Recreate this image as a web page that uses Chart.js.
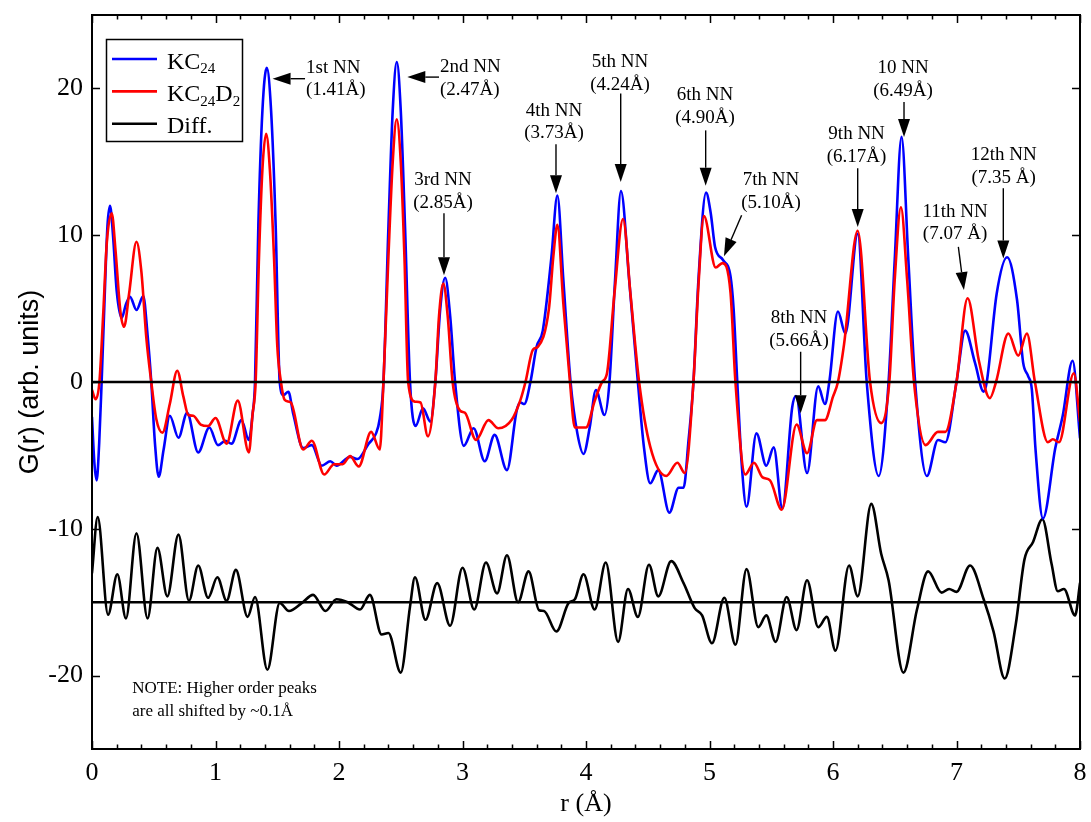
<!DOCTYPE html>
<html>
<head>
<meta charset="utf-8">
<title>G(r) KC24 / KC24D2</title>
<script src="https://cdn.jsdelivr.net/npm/chart.js@4.4.0/dist/chart.umd.min.js"></script>
<style>
  html, body { margin: 0; padding: 0; background: #fff; }
  #wrap { width: 1091px; height: 822px; }
</style>
</head>
<body>
<div id="wrap"><canvas id="gr" width="1091" height="822"></canvas></div>
<script>
// pair distribution functions, [r (Å), G(r)]
var kc24 = [[0.00,-2.4],[0.02,-5.6],[0.038,-6.7],[0.058,-4.2],[0.078,0],[0.10,5.2],[0.125,10.6],[0.146,12.0],[0.17,10.0],[0.20,6.2],
  [0.24,4.35],[0.275,5.3],[0.308,5.8],[0.36,4.9],[0.415,5.85],[0.45,3.2],[0.48,0],[0.51,-4.2],[0.54,-6.45],[0.58,-4.6],
  [0.63,-2.3],[0.70,-3.8],[0.77,-2.1],[0.86,-4.8],[0.95,-3.1],[1.02,-4.3],[1.08,-4.0],[1.13,-4.2],[1.21,-2.6],[1.27,-3.95],
  [1.30,-2.2],[1.32,0],[1.347,10.7],[1.38,18.5],[1.415,21.4],[1.45,18.5],[1.487,10.7],[1.52,0],[1.55,-0.9],[1.59,-0.66],
  [1.63,-2.2],[1.71,-4.5],[1.78,-4.3],[1.86,-5.7],[1.93,-5.4],[1.98,-5.7],[2.09,-5.1],[2.15,-5.25],[2.24,-4.2],[2.30,-3.5],
  [2.33,-2.5],[2.36,0],[2.40,10.5],[2.435,18.5],[2.468,21.8],[2.50,18.5],[2.535,10.5],[2.575,0],[2.62,-3.0],[2.68,-1.8],
  [2.74,-2.7],[2.78,0],[2.82,5.0],[2.86,7.1],[2.90,4.5],[2.94,0],[3.01,-4.35],[3.09,-3.15],[3.18,-5.4],[3.26,-3.6],
  [3.36,-6.0],[3.44,-1.9],[3.47,-1.4],[3.50,-1.5],[3.55,0],[3.60,2.4],[3.65,3.5],[3.72,8.5],[3.768,12.7],[3.817,6.9],
  [3.875,0],[3.93,-3.5],[3.98,-4.9],[4.03,-3.1],[4.08,-0.54],[4.15,-2.25],[4.19,0],[4.235,6.9],[4.283,13.0],[4.35,6.9],
  [4.42,0],[4.47,-4.5],[4.52,-6.9],[4.585,-6.0],[4.675,-8.9],[4.75,-7.2],[4.79,-7.2],[4.83,-4.0],[4.87,0],[4.91,6.9],
  [4.972,12.9],[5.01,11.5],[5.045,9.2],[5.11,8.3],[5.17,7.2],[5.195,5.0],[5.225,0],[5.26,-5.5],[5.30,-8.5],[5.38,-3.5],
  [5.46,-5.7],[5.52,-4.45],[5.59,-8.6],[5.67,-1.7],[5.70,-0.95],[5.79,-6.2],[5.88,-0.3],[5.935,-1.5],[5.97,0],[6.04,4.8],
  [6.10,3.3],[6.20,10.1],[6.273,0],[6.37,-6.4],[6.45,0],[6.50,8.35],[6.555,16.7],[6.61,8.35],[6.665,0],[6.76,-6.4],
  [6.85,-3.95],[6.91,-4.1],[7.0,0],[7.07,3.5],[7.15,1.3],[7.22,-0.66],[7.245,0],[7.325,6.0],[7.41,8.5],[7.49,5.6],
  [7.54,1.3],[7.58,0.4],[7.61,-0.5],[7.64,-4.6],[7.70,-9.3],[7.80,-4.5],[7.86,-2.3],[7.94,1.45],[8.0,-3.8]];

var kc24d2 = [[0.00,-0.54],[0.03,-1.18],[0.06,0],[0.09,4.5],[0.12,9.5],[0.16,11.5],[0.19,9.0],[0.23,4.8],[0.26,3.76],[0.30,6.0],
  [0.36,9.55],[0.40,7.5],[0.44,3.0],[0.48,0],[0.52,-2.5],[0.57,-3.45],[0.63,-1.5],[0.69,0.77],[0.74,-1.0],[0.78,-2.25],
  [0.82,-2.3],[0.88,-2.9],[0.94,-3.0],[1.0,-2.45],[1.09,-4.2],[1.18,-1.27],[1.27,-4.8],[1.30,-2.2],[1.325,0],[1.352,8.45],
  [1.38,14.5],[1.41,16.9],[1.44,14.5],[1.474,8.45],[1.50,2.5],[1.53,0],[1.56,-1.22],[1.61,-1.4],[1.71,-4.6],[1.78,-4.0],
  [1.88,-6.3],[1.96,-5.6],[2.03,-5.6],[2.09,-5.05],[2.16,-5.75],[2.26,-3.4],[2.33,-4.6],[2.36,0],[2.40,8.5],[2.435,15.0],
  [2.467,17.9],[2.50,15.0],[2.53,8.5],[2.56,0],[2.615,-1.34],[2.66,-1.4],[2.72,-3.7],[2.78,0],[2.81,4.5],[2.845,6.7],
  [2.88,4.5],[2.92,0],[2.98,-1.95],[3.02,-2.1],[3.11,-3.95],[3.21,-2.6],[3.29,-3.15],[3.40,-2.55],[3.47,-1.2],[3.51,0],
  [3.57,2.2],[3.61,2.4],[3.70,5.0],[3.735,8.5],[3.768,10.7],[3.817,5.3],[3.87,0],[3.91,-3.1],[4.0,-3.1],[4.07,-1.3],
  [4.13,0],[4.17,0.6],[4.23,6.0],[4.30,11.1],[4.36,6.0],[4.43,0],[4.52,-4.4],[4.65,-6.4],[4.74,-5.5],[4.80,-6.2],
  [4.87,0],[4.91,6.5],[4.955,11.3],[5.05,7.8],[5.105,8.1],[5.17,6.1],[5.21,0],[5.29,-6.3],[5.36,-5.5],[5.43,-6.5],
  [5.49,-6.7],[5.585,-8.7],[5.705,-2.9],[5.79,-4.85],[5.87,-2.6],[5.935,-2.6],[6.0,-1.0],[6.04,0],[6.09,2.6],[6.20,10.3],
  [6.30,0],[6.39,-2.8],[6.456,0],[6.50,7.0],[6.55,11.9],[6.60,7.0],[6.656,0],[6.75,-4.3],[6.85,-3.4],[6.91,-3.4],
  [7.0,0],[7.09,5.7],[7.18,1.5],[7.27,-1.1],[7.32,0],[7.42,3.3],[7.50,1.8],[7.57,3.3],[7.635,0],[7.74,-4.1],
  [7.78,-3.9],[7.83,-4.1],[7.95,0.6],[8.0,-2.7]];

// difference curve, already offset to the -15 baseline
var diff = [[0.0,-13.0],[0.046,-9.2],[0.13,-15.85],[0.205,-13.1],[0.275,-16.1],[0.36,-10.3],[0.45,-16.1],[0.53,-11.3],[0.61,-14.6],[0.70,-10.4],
  [0.785,-14.9],[0.86,-12.5],[0.94,-14.7],[1.015,-13.3],[1.09,-14.9],[1.165,-12.8],[1.26,-16.0],[1.32,-14.65],[1.42,-19.6],[1.52,-15.05],
  [1.595,-15.6],[1.70,-15.05],[1.79,-14.5],[1.89,-15.6],[1.98,-14.8],[2.07,-15.0],[2.17,-15.5],[2.25,-14.5],[2.345,-17.2],[2.40,-17.1],
  [2.50,-19.8],[2.575,-15.3],[2.615,-13.3],[2.70,-16.2],[2.795,-13.7],[2.90,-16.6],[3.0,-12.65],[3.095,-15.5],[3.19,-12.3],[3.28,-14.4],
  [3.36,-11.8],[3.45,-15.0],[3.535,-12.9],[3.62,-15.55],[3.66,-15.6],[3.76,-17.0],[3.86,-15.05],[3.91,-14.8],[3.98,-13.1],[4.07,-15.5],
  [4.16,-12.3],[4.26,-17.7],[4.34,-14.1],[4.42,-16.0],[4.51,-12.45],[4.585,-14.6],[4.69,-12.2],[4.79,-13.7],[4.88,-15.4],[4.94,-15.9],
  [5.02,-17.8],[5.12,-14.7],[5.21,-17.9],[5.30,-12.75],[5.395,-16.7],[5.46,-15.9],[5.535,-17.7],[5.625,-14.65],[5.705,-16.9],[5.79,-13.5],
  [5.88,-16.7],[5.95,-16.0],[6.02,-18.3],[6.13,-12.5],[6.20,-14.6],[6.31,-8.3],[6.39,-11.7],[6.45,-13.5],[6.57,-19.8],[6.68,-15.5],
  [6.77,-12.9],[6.88,-14.35],[6.94,-14.1],[7.0,-14.3],[7.11,-12.5],[7.22,-14.8],[7.30,-17.0],[7.39,-20.2],[7.48,-16.5],[7.55,-12.1],
  [7.62,-10.9],[7.695,-9.35],[7.77,-12.4],[7.82,-14.25],[7.87,-14.1],[7.96,-15.9],[8.0,-13.7]];

var baselines = [0, -15];
var xTicks = [0, 1, 2, 3, 4, 5, 6, 7, 8];
var yTicks = [-20, -10, 0, 10, 20];

// neighbour-shell labels: text lines, text anchor (r, G), arrow tail -> head (r, G)
var shells = [
  { lines: ['1st NN', '(1.41Å)'], at: [1.733, 21.4], align: 'left', from: [1.725, 20.66], to: [1.462, 20.66] },
  { lines: ['2nd NN', '(2.47Å)'], at: [2.818, 21.45], align: 'left', from: [2.81, 20.77], to: [2.553, 20.77] },
  { lines: ['3rd NN', '(2.85Å)'], at: [2.842, 13.74], from: [2.85, 11.5], to: [2.85, 7.28] },
  { lines: ['4th NN', '(3.73Å)'], at: [3.741, 18.46], from: [3.757, 16.19], to: [3.757, 12.86] },
  { lines: ['5th NN', '(4.24Å)'], at: [4.275, 21.77], from: [4.281, 19.66], to: [4.281, 13.63] },
  { lines: ['6th NN', '(4.90Å)'], at: [4.964, 19.52], from: [4.969, 17.14], to: [4.969, 13.37] },
  { lines: ['7th NN', '(5.10Å)'], at: [5.498, 13.74], from: [5.26, 11.36], to: [5.117, 8.57] },
  { lines: ['8th NN', '(5.66Å)'], at: [5.725, 4.33], from: [5.738, 2.06], to: [5.738, -2.13] },
  { lines: ['9th NN', '(6.17Å)'], at: [6.191, 16.87], from: [6.2, 14.56], to: [6.2, 10.56] },
  { lines: ['10 NN', '(6.49Å)'], at: [6.567, 21.36], from: [6.575, 19.07], to: [6.575, 16.69] },
  { lines: ['11th NN', '(7.07 Å)'], at: [6.988, 11.59], from: [7.015, 9.2], to: [7.06, 6.26] },
  { lines: ['12th NN', '(7.35 Å)'], at: [7.382, 15.44], from: [7.379, 13.2], to: [7.379, 8.41] }
];

var note = { lines: ['NOTE: Higher order peaks', 'are all shifted by ~0.1Å'], at: [0.326, -20.88] };

// legend names with subscript parts: [text, isSubscript]
var legendNames = [
  [['KC', 0], ['24', 1]],
  [['KC', 0], ['24', 1], ['D', 0], ['2', 1]],
  [['Diff.', 0]]
];

var SERIF = '"Liberation Serif", "Times New Roman", serif';
var SANS = '"Liberation Sans", Arial, sans-serif';

function pts(arr) {
  return arr.map(function (p) { return { x: p[0], y: p[1] }; });
}
function flat(y) {
  return [{ x: 0, y: y }, { x: 8, y: y }];
}

function curve(label, arr, color) {
  return {
    label: label, data: pts(arr), borderColor: color, backgroundColor: color,
    borderWidth: 2.6, pointRadius: 0, showLine: true, fill: false,
    cubicInterpolationMode: 'monotone'
  };
}

var datasets = [
  { label: 'zero', data: flat(baselines[0]), borderColor: '#000', borderWidth: 2.4, pointRadius: 0, showLine: true },
  { label: 'diff zero', data: flat(baselines[1]), borderColor: '#000', borderWidth: 2.4, pointRadius: 0, showLine: true },
  curve('KC24D2', kc24d2, '#ff0000'),
  curve('KC24', kc24, '#0000ff'),
  curve('Diff.', diff, '#000000')
];
var legendColors = ['#0000ff', '#ff0000', '#000000'];

function drawParts(ctx, parts, x, y, size) {
  parts.forEach(function (p) {
    var sub = p[1];
    ctx.font = (sub ? Math.round(size * 0.62) : size) + 'px ' + SERIF;
    ctx.fillText(p[0], x, y + (sub ? size * 0.2 : 0));
    x += ctx.measureText(p[0]).width;
  });
}

function arrow(ctx, x0, y0, x1, y1) {
  var ang = Math.atan2(y1 - y0, x1 - x0), len = 18, hw = 6;
  var bx = x1 - len * Math.cos(ang), by = y1 - len * Math.sin(ang);
  ctx.beginPath();
  ctx.moveTo(x0, y0);
  ctx.lineTo(bx, by);
  ctx.stroke();
  ctx.beginPath();
  ctx.moveTo(x1, y1);
  ctx.lineTo(bx + hw * Math.sin(ang), by - hw * Math.cos(ang));
  ctx.lineTo(bx - hw * Math.sin(ang), by + hw * Math.cos(ang));
  ctx.closePath();
  ctx.fill();
}

var framePlugin = {
  id: 'grFrame',
  afterDatasetsDraw: function (chart) {
    var ctx = chart.ctx, a = chart.chartArea;
    var xs = chart.scales.x, ys = chart.scales.y;
    ctx.save();
    ctx.strokeStyle = '#000';
    ctx.fillStyle = '#000';

    // inward ticks: major + minor on x, major on y, mirrored
    ctx.lineWidth = 1.5;
    ctx.beginPath();
    for (var i = 0; i <= 40; i++) {
      var px = Math.round(xs.getPixelForValue(i / 5)) + 0.5;
      var len = (i % 5 === 0) ? 8 : 4.5;
      ctx.moveTo(px, a.bottom); ctx.lineTo(px, a.bottom - len);
      ctx.moveTo(px, a.top); ctx.lineTo(px, a.top + len);
    }
    yTicks.forEach(function (v) {
      var py = Math.round(ys.getPixelForValue(v)) + 0.5;
      ctx.moveTo(a.left, py); ctx.lineTo(a.left + 8, py);
      ctx.moveTo(a.right, py); ctx.lineTo(a.right - 8, py);
    });
    ctx.stroke();

    ctx.lineWidth = 2;
    ctx.strokeRect(a.left, a.top, a.right - a.left, a.bottom - a.top);

    // shell labels with arrows
    ctx.textBaseline = 'middle';
    ctx.font = '19px ' + SERIF;
    ctx.lineWidth = 1.4;
    shells.forEach(function (s) {
      var tx = xs.getPixelForValue(s.at[0]), ty = ys.getPixelForValue(s.at[1]);
      ctx.textAlign = s.align || 'center';
      s.lines.forEach(function (t, k) { ctx.fillText(t, tx, ty + k * 22.5); });
      arrow(ctx, xs.getPixelForValue(s.from[0]), ys.getPixelForValue(s.from[1]),
        xs.getPixelForValue(s.to[0]), ys.getPixelForValue(s.to[1]));
    });

    ctx.textAlign = 'left';
    ctx.font = '17px ' + SERIF;
    var nx = xs.getPixelForValue(note.at[0]), ny = ys.getPixelForValue(note.at[1]);
    note.lines.forEach(function (t, k) { ctx.fillText(t, nx, ny + k * 22.7); });

    // legend box
    var lx = a.left + 14, ly = a.top + 24;
    ctx.fillStyle = '#fff';
    ctx.fillRect(lx, ly, 136, 102);
    ctx.lineWidth = 1.5;
    ctx.strokeStyle = '#000';
    ctx.strokeRect(lx + 0.5, ly + 0.5, 136, 102);
    ctx.textBaseline = 'alphabetic';
    legendNames.forEach(function (parts, k) {
      var rowY = ly + 20 + k * 32.4;
      ctx.strokeStyle = legendColors[k];
      ctx.lineWidth = 2.6;
      ctx.beginPath();
      ctx.moveTo(lx + 6, rowY); ctx.lineTo(lx + 51, rowY);
      ctx.stroke();
      ctx.fillStyle = '#000';
      drawParts(ctx, parts, lx + 61, rowY + 9.5, 24);
    });
    ctx.restore();
  }
};

new Chart(document.getElementById('gr'), {
  type: 'scatter',
  data: { datasets: datasets },
  plugins: [framePlugin],
  options: {
    responsive: false,
    animation: false,
    devicePixelRatio: 1,
    layout: { padding: { top: 15, right: 11, left: 0, bottom: 0 } },
    plugins: { legend: { display: false }, tooltip: { enabled: false } },
    elements: { line: { borderCapStyle: 'round', borderJoinStyle: 'round' } },
    scales: {
      x: {
        type: 'linear', min: 0, max: 8,
        afterFit: function (s) { s.height = 73; s.paddingLeft = 0; s.paddingRight = 0; },
        afterBuildTicks: function (s) { s.ticks = xTicks.map(function (v) { return { value: v }; }); },
        grid: { display: false, drawTicks: false },
        border: { display: false },
        ticks: { color: '#000', padding: 9, maxRotation: 0, font: { family: SERIF, size: 26 } },
        title: { display: true, text: 'r (Å)', color: '#000', padding: { top: 0, bottom: 2 }, font: { family: SERIF, size: 26 } }
      },
      y: {
        type: 'linear', min: -25, max: 25,
        afterFit: function (s) { s.width = 92; s.paddingTop = 0; s.paddingBottom = 0; },
        afterBuildTicks: function (s) { s.ticks = yTicks.map(function (v) { return { value: v }; }); },
        grid: { display: false, drawTicks: false },
        border: { display: false },
        ticks: { color: '#000', padding: 9, font: { family: SERIF, size: 26 } },
        title: { display: true, text: 'G(r) (arb. units)', color: '#000', padding: { top: 14, bottom: 0 }, font: { family: SANS, size: 27 } }
      }
    }
  }
});
</script>
</body>
</html>
